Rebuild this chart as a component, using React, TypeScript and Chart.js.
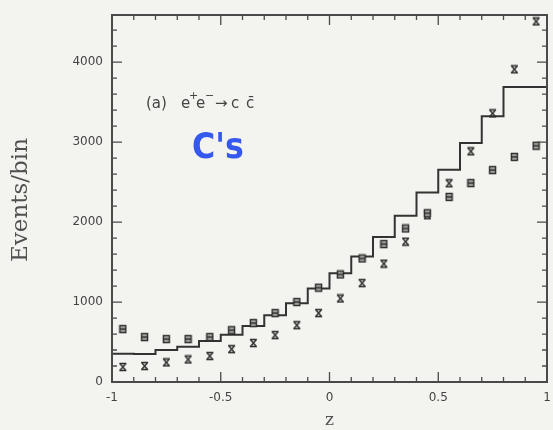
import React, { useEffect, useRef } from 'react';
import { Chart, registerables } from 'chart.js';

Chart.register(...registerables);

// Bin edges of the histogram (z)
const binEdges = [-1, -0.9, -0.8, -0.7, -0.6, -0.5, -0.4, -0.3, -0.2, -0.1, 0, 0.1, 0.2, 0.3, 0.4, 0.5, 0.6, 0.7, 0.8, 0.9, 1];
// Bin centres where the markers sit
const binCenters = [-0.95, -0.85, -0.75, -0.65, -0.55, -0.45, -0.35, -0.25, -0.15, -0.05, 0.05, 0.15, 0.25, 0.35, 0.45, 0.55, 0.65, 0.75, 0.85, 0.95];
// Histogram (solid step line), events per bin
const histValues = [400, 352, 350, 400, 441, 512, 590, 700, 835, 985, 1170, 1360, 1570, 1815, 2080, 2370, 2655, 2990, 3325, 3690];
// Open-square markers
const squareValues = [662, 562, 537, 537, 562, 648, 737, 862, 1000, 1180, 1345, 1545, 1725, 1920, 2110, 2315, 2488, 2650, 2815, 2955];
// Hourglass / cross markers
const crossValues = [188, 200, 245, 282, 325, 411, 487, 587, 710, 862, 1045, 1237, 1480, 1755, 2085, 2485, 2885, 3360, 3910, 4510];

const xTickLabels = [-1, -0.5, 0, 0.5, 1];
const yTickLabels = [0, 1000, 2000, 3000, 4000];
const yMax = 4590;

const BG = '#f3f3ef';

function makeSquare(): HTMLCanvasElement {
  const c = document.createElement('canvas');
  c.width = 9;
  c.height = 10;
  const g = c.getContext('2d')!;
  g.fillStyle = '#a4a4a0';
  g.fillRect(1, 1, 7, 8);
  g.strokeStyle = '#2c2c2c';
  g.lineWidth = 1.4;
  g.strokeRect(1.5, 1.5, 6, 7);
  g.beginPath();
  g.moveTo(1.5, 5);
  g.lineTo(7.5, 5);
  g.stroke();
  return c;
}

function makeHourglass(): HTMLCanvasElement {
  const c = document.createElement('canvas');
  c.width = 9;
  c.height = 10;
  const g = c.getContext('2d')!;
  g.strokeStyle = '#2c2c2c';
  g.lineWidth = 1.4;
  g.beginPath();
  g.moveTo(1, 1.5);
  g.lineTo(8, 1.5);
  g.moveTo(1, 8.5);
  g.lineTo(8, 8.5);
  g.moveTo(1.5, 1.5);
  g.lineTo(7.5, 8.5);
  g.moveTo(7.5, 1.5);
  g.lineTo(1.5, 8.5);
  g.stroke();
  return c;
}

const framePlugin = {
  id: 'frameAndText',
  beforeDraw(chart: any) {
    const ctx = chart.ctx;
    ctx.save();
    ctx.fillStyle = BG;
    ctx.fillRect(0, 0, chart.width, chart.height);
    ctx.restore();
  },
  afterDraw(chart: any) {
    const ctx = chart.ctx;
    const { left, right, top, bottom } = chart.chartArea;
    const xs = chart.scales.x;
    const ys = chart.scales.y;
    ctx.save();
    ctx.strokeStyle = '#4a4a4a';
    ctx.lineWidth = 2;
    ctx.strokeRect(left, top, right - left, bottom - top);

    ctx.lineWidth = 1.3;
    ctx.beginPath();
    // x ticks (inward, top and bottom)
    for (let i = -10; i <= 10; i++) {
      const v = i / 10;
      const px = xs.getPixelForValue(v);
      const len = i % 5 === 0 ? 10 : 5;
      ctx.moveTo(px, bottom);
      ctx.lineTo(px, bottom - len);
      ctx.moveTo(px, top);
      ctx.lineTo(px, top + len);
    }
    // y ticks (inward, left and right)
    for (let v = 0; v <= yMax; v += 200) {
      const py = ys.getPixelForValue(v);
      const len = v % 1000 === 0 ? 10 : 5;
      ctx.moveTo(left, py);
      ctx.lineTo(left + len, py);
      ctx.moveTo(right, py);
      ctx.lineTo(right - len, py);
    }
    ctx.stroke();

    // axis titles
    ctx.fillStyle = '#505050';
    ctx.textAlign = 'center';
    ctx.textBaseline = 'middle';
    ctx.font = '17px "DejaVu Serif"';
    ctx.fillText('z', xs.getPixelForValue(0), 421);
    ctx.save();
    ctx.translate(21, 200);
    ctx.rotate(-Math.PI / 2);
    ctx.font = '23px "DejaVu Serif"';
    ctx.fillText('Events/bin', 0, 0);
    ctx.restore();

    // process label
    ctx.textAlign = 'left';
    ctx.textBaseline = 'alphabetic';
    ctx.fillStyle = '#444';
    ctx.font = '15px "DejaVu Sans"';
    ctx.fillText('(a)', 146, 108);
    ctx.fillText('e', 181, 108);
    ctx.fillText('e', 196, 108);
    ctx.fillText('\u2192', 215, 108);
    ctx.fillText('c', 231, 108);
    ctx.fillText('c\u0304', 246, 108);
    ctx.font = '11px "DejaVu Sans"';
    ctx.fillText('+', 189, 99);
    ctx.fillText('\u2212', 205, 99);

    // handwritten note
    ctx.save();
    ctx.fillStyle = '#3558ee';
    ctx.translate(192, 158);
    ctx.scale(0.88, 1);
    ctx.font = 'bold 36px "DejaVu Sans"';
    ctx.fillText("C's", 0, 0);
    ctx.restore();

    ctx.restore();
  },
};

export default function App() {
  const canvasRef = useRef<HTMLCanvasElement | null>(null);

  useEffect(() => {
    if (!canvasRef.current) return;
    const sq = makeSquare();
    const hg = makeHourglass();
    const histPoints = binEdges.map((x, i) => ({ x, y: histValues[Math.min(i, histValues.length - 1)] }));
    const chart = new Chart(canvasRef.current, {
      type: 'scatter',
      data: {
        datasets: [
          {
            type: 'line',
            label: 'histogram',
            data: histPoints,
            stepped: 'after',
            borderColor: '#333',
            borderWidth: 2,
            pointRadius: 0,
            fill: false,
            order: 3,
          } as any,
          {
            label: 'squares',
            data: binCenters.map((x, i) => ({ x, y: squareValues[i] })),
            pointStyle: sq as any,
            pointRadius: 5,
            order: 1,
          },
          {
            label: 'crosses',
            data: binCenters.map((x, i) => ({ x, y: crossValues[i] })),
            pointStyle: hg as any,
            pointRadius: 5,
            order: 2,
          },
        ],
      },
      options: {
        responsive: false,
        animation: false,
        layout: { padding: { left: 0, right: 2, top: 15, bottom: 0 } },
        plugins: { legend: { display: false }, tooltip: { enabled: false } },
        scales: {
          x: {
            type: 'linear',
            min: -1,
            max: 1,
            afterBuildTicks: (s: any) => {
              s.ticks = xTickLabels.map((v) => ({ value: v }));
            },
            afterFit: (s: any) => {
              s.height = 48;
              s.paddingLeft = 0;
              s.paddingRight = 0;
            },
            grid: { display: false, drawTicks: false },
            border: { display: false },
            ticks: {
              autoSkip: false,
              maxRotation: 0,
              padding: 9,
              color: '#444',
              font: { family: 'DejaVu Sans', size: 12 },
              callback: (v: any) => String(Number(v)),
            },
          },
          y: {
            type: 'linear',
            min: 0,
            max: yMax,
            afterBuildTicks: (s: any) => {
              s.ticks = yTickLabels.map((v) => ({ value: v }));
            },
            afterFit: (s: any) => {
              s.width = 112;
              s.paddingTop = 0;
              s.paddingBottom = 0;
            },
            grid: { display: false, drawTicks: false },
            border: { display: false },
            ticks: {
              autoSkip: false,
              padding: 9,
              color: '#444',
              font: { family: 'DejaVu Sans', size: 12 },
              callback: (v: any) => String(v),
            },
          },
        },
      },
      plugins: [framePlugin],
    });
    return () => chart.destroy();
  }, []);

  return (
    <div style={{ position: 'fixed', left: 0, top: 0, width: 553, height: 430, background: BG }}>
      <canvas ref={canvasRef} width={553} height={430} style={{ display: 'block' }} />
    </div>
  );
}
